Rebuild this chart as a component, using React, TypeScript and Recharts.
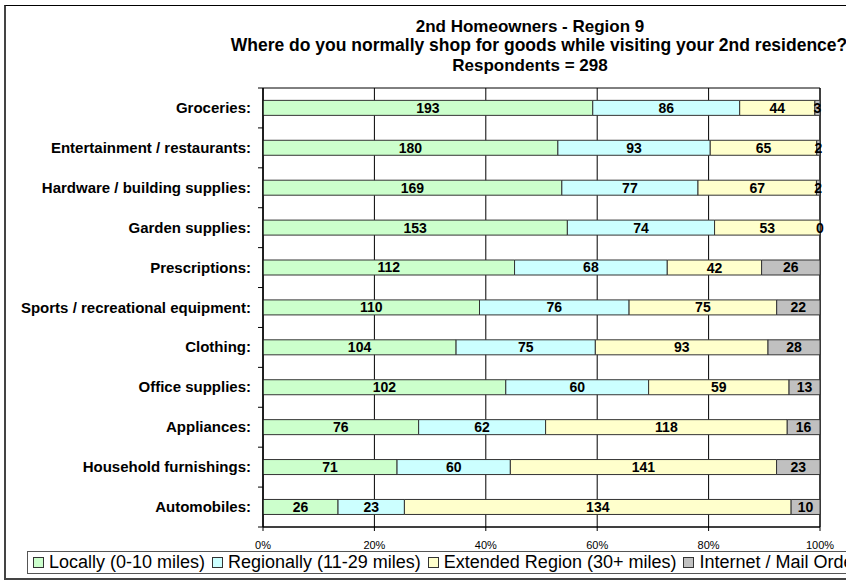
import { BarChart, Bar, XAxis, YAxis, CartesianGrid, LabelList, ReferenceArea } from 'recharts'

const categories = [
  'Groceries:',
  'Entertainment / restaurants:',
  'Hardware / building supplies:',
  'Garden supplies:',
  'Prescriptions:',
  'Sports / recreational equipment:',
  'Clothing:',
  'Office supplies:',
  'Appliances:',
  'Household furnishings:',
  'Automobiles:',
]
const locally = [193, 180, 169, 153, 112, 110, 104, 102, 76, 71, 26]
const regionally = [86, 93, 77, 74, 68, 76, 75, 60, 62, 60, 23]
const extended = [44, 65, 67, 53, 42, 75, 93, 59, 118, 141, 134]
const internet = [3, 2, 2, 0, 26, 22, 28, 13, 16, 23, 10]
const xTicks = [0, 0.2, 0.4, 0.6, 0.8, 1]

const seriesNames = ['Locally (0-10 miles)', 'Regionally (11-29 miles)', 'Extended Region (30+ miles)', 'Internet / Mail Order']
const seriesKeys = ['locally', 'regionally', 'extended', 'internet']
const seriesColors = ['#CCFFCC', '#CCFFFF', '#FFFFCC', '#C0C0C0']

const data = categories.map((name, i) => ({
  name,
  locally: locally[i],
  regionally: regionally[i],
  extended: extended[i],
  internet: internet[i],
}))

const W = 846
const H = 582
const PLOT_LEFT = 263
const PLOT_TOP = 88
const PLOT_BOTTOM = 527
const BAND = (PLOT_BOTTOM - PLOT_TOP) / categories.length
const FONT = 'Arial, "Liberation Sans", sans-serif'

function CategoryTick({ y, payload, index }: any) {
  return (
    <g>
      <text x={PLOT_LEFT - 12} y={y} dy={5} textAnchor="end" fontWeight="bold" fontSize={15} fill="#000" fontFamily={FONT}>
        {payload.value}
      </text>
      <line x1={PLOT_LEFT - 5} x2={PLOT_LEFT} y1={y - BAND / 2} y2={y - BAND / 2} stroke="#000" />
      {index === categories.length - 1 && (
        <line x1={PLOT_LEFT - 5} x2={PLOT_LEFT} y1={y + BAND / 2} y2={y + BAND / 2} stroke="#000" />
      )}
    </g>
  )
}

// the last series has zero-width segments that recharts skips; its zero labels are drawn at the end of the previous segment
function ExtendedLabel(props: any) {
  const { x, y, width, height, value, index } = props
  const row = data[index]
  return (
    <g fontWeight="bold" fontSize={14} fontFamily={FONT} fill="#000" textAnchor="middle">
      <text x={x + width / 2} y={y + height / 2} dy={5}>{value}</text>
      {row && row.internet === 0 && (
        <text x={x + width} y={y + height / 2} dy={5}>{row.internet}</text>
      )}
    </g>
  )
}

export default function App() {
  return (
    <div style={{ position: 'absolute', left: 0, top: 0, width: W, height: H, overflow: 'hidden', background: '#fff', fontFamily: FONT }}>
      <div style={{ position: 'absolute', left: 4, top: 5, width: 860, height: 572, borderLeft: '2px solid #444', borderTop: '1px solid #000', borderBottom: '2px solid #444' }} />
      <svg width={W} height={80} style={{ position: 'absolute', left: 0, top: 0 }}>
        <text x={530} y={32} textAnchor="middle" fontWeight="bold" fontSize={17} fontFamily={FONT} fill="#000">2nd Homeowners - Region 9</text>
        <text x={539} y={51} textAnchor="middle" fontWeight="bold" fontSize={17.5} fontFamily={FONT} fill="#000">Where do you normally shop for goods while visiting your 2nd residence?</text>
        <text x={530} y={71} textAnchor="middle" fontWeight="bold" fontSize={17} fontFamily={FONT} fill="#000">Respondents = 298</text>
      </svg>
      <div style={{ position: 'absolute', left: 0, top: 0 }}>
        <BarChart
          width={W}
          height={H}
          data={data}
          layout="vertical"
          stackOffset="expand"
          barCategoryGap="31%"
          margin={{ top: PLOT_TOP, right: 26, bottom: H - PLOT_BOTTOM - 20, left: 0 }}
        >
          <CartesianGrid horizontal={false} stroke="#000" />
          <XAxis
            type="number"
            domain={[0, 1]}
            ticks={xTicks}
            tickFormatter={(v: number) => `${Math.round(v * 100)}%`}
            height={20}
            stroke="#000"
            tickSize={4}
            tickMargin={10}
            tick={{ fontSize: 11, fill: '#000', fontFamily: FONT }}
          />
          <YAxis type="category" dataKey="name" width={PLOT_LEFT} stroke="#000" tickLine={false} tick={<CategoryTick />} interval={0} />
          <ReferenceArea x1={0} x2={1} fill="none" stroke="#000" ifOverflow="visible" />
          {seriesKeys.map((k, i) => (
            <Bar key={k} dataKey={k} name={seriesNames[i]} stackId="a" fill={seriesColors[i]} stroke="#333" strokeWidth={1} isAnimationActive={false}>
              {k === 'extended' ? (
                <LabelList dataKey={k} content={<ExtendedLabel />} />
              ) : (
                <LabelList dataKey={k} position="center" fill="#000" fontWeight="bold" fontSize={14} fontFamily={FONT} />
              )}
            </Bar>
          ))}
        </BarChart>
      </div>
      <div style={{ position: 'absolute', left: 27, top: 551, width: 840, height: 23, border: '1px solid #555', boxSizing: 'border-box', background: '#fff', display: 'flex', alignItems: 'center', paddingLeft: 5, whiteSpace: 'nowrap', fontSize: 18, color: '#000' }}>
        {seriesNames.map((n, i) => (
          <span key={n} style={{ display: 'inline-flex', alignItems: 'center', marginRight: 7 }}>
            <span style={{ display: 'inline-block', width: 9, height: 9, background: seriesColors[i], border: '1px solid #333', marginRight: 5 }} />
            {n}
          </span>
        ))}
      </div>
    </div>
  )
}
